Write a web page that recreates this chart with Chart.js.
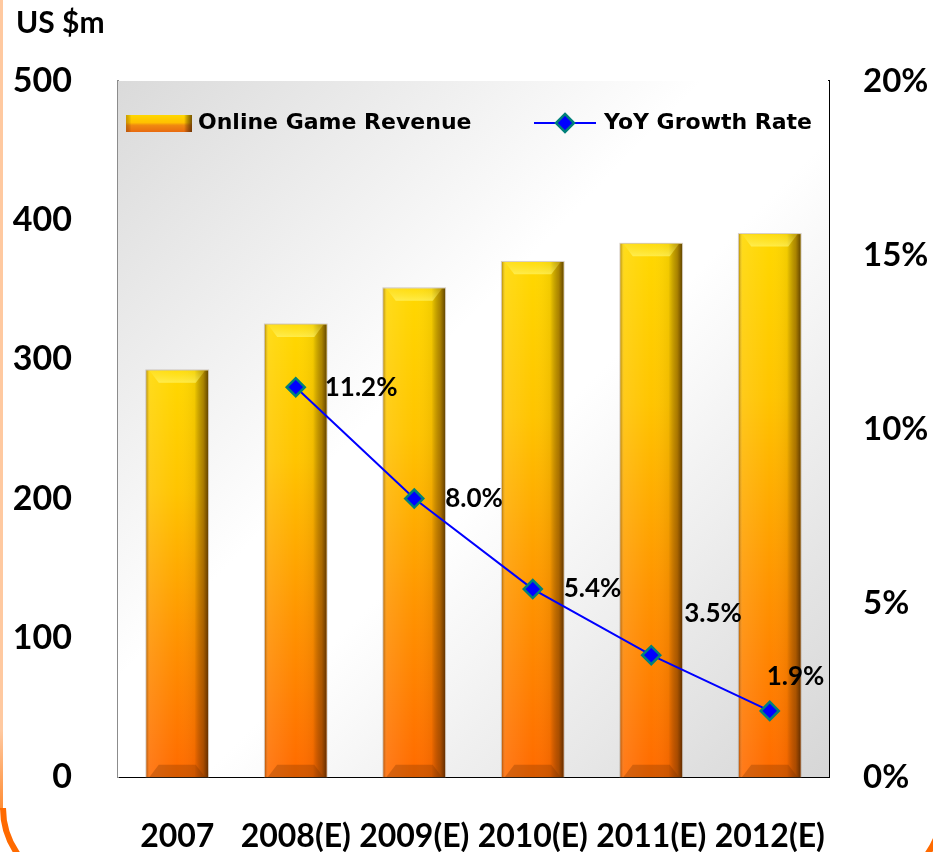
<!DOCTYPE html>
<html>
<head>
<meta charset="utf-8">
<title>Online Game Revenue</title>
<script src="https://cdn.jsdelivr.net/npm/chart.js@4"></script>
<style>
  html, body { margin: 0; padding: 0; background: #fff; }
  #wrap { position: relative; width: 933px; height: 852px; }
</style>
</head>
<body>
<div id="wrap"><canvas id="revenueChart" width="933" height="852"></canvas></div>
<script>
const years = ['2007', '2008(E)', '2009(E)', '2010(E)', '2011(E)', '2012(E)'];
const revenue = [292, 325, 351, 370, 383, 390];      // US $m
const growth = [null, 11.2, 8.0, 5.4, 3.5, 1.9];    // YoY %
const revenueTicks = [0, 100, 200, 300, 400, 500];
const growthTicks = [0, 5, 10, 15, 20];

// where each growth label sits relative to its marker
const labelShift = [null, [29, 0], [31, 0], [31, 0], [33, -42], [-3, -34]];

const NUM_FONT = 'Lato, "DejaVu Sans", sans-serif';
const TXT_FONT = '"DejaVu Sans", sans-serif';

// orange rounded frame round the whole slide
const framePlugin = {
  id: 'frame',
  beforeDraw(chart) {
    const c = chart.ctx;
    c.save();
    const g = c.createLinearGradient(0, 0, 0, 812);
    g.addColorStop(0, '#ffc9a0');
    g.addColorStop(0.9, '#ffc9a0');
    g.addColorStop(1, '#ff8a30');
    c.strokeStyle = g;
    c.lineWidth = 3;
    c.beginPath();
    c.moveTo(1.5, 0);
    c.lineTo(1.5, 810);
    c.stroke();

    c.lineWidth = 6;
    c.strokeStyle = '#ff6a00';
    c.beginPath();
    c.arc(83, 808, 80, Math.PI, Math.PI * 0.62, true);
    c.stroke();
    c.beginPath();
    c.arc(862, 808, 80, Math.PI * 0.36, Math.PI * 0.05, true);
    c.stroke();

    c.fillStyle = '#000';
    c.font = 'bold 30px ' + NUM_FONT;
    c.textBaseline = 'middle';
    c.fillText('US $m', 16, 23);
    c.restore();
  }
};

// diagonal grey-white-grey plot background
const plotBgPlugin = {
  id: 'plotBg',
  beforeDatasetsDraw(chart) {
    const { ctx: c, chartArea: a } = chart;
    const g = c.createLinearGradient(a.left, a.top, a.right, a.bottom);
    g.addColorStop(0, '#dadada');
    g.addColorStop(0.42, '#ffffff');
    g.addColorStop(0.55, '#ffffff');
    g.addColorStop(1, '#d6d6d6');
    c.save();
    c.fillStyle = g;
    c.fillRect(a.left, a.top, a.right - a.left, a.bottom - a.top);
    c.restore();
  }
};

function barGradient(c, top, bottom) {
  const g = c.createLinearGradient(0, top, 0, bottom);
  g.addColorStop(0, '#ffd800');
  g.addColorStop(0.3, '#ffc400');
  g.addColorStop(0.65, '#ff9400');
  g.addColorStop(1, '#ff6a00');
  return g;
}

// bevel shading on top of each bar
function shadeBar(c, x0, x1, top, bottom) {
  const w = x1 - x0;
  const b = Math.min(13, w * 0.2);

  const h = c.createLinearGradient(x0, 0, x1, 0);
  h.addColorStop(0, 'rgba(90,45,0,0.4)');
  h.addColorStop(0.06, 'rgba(255,255,255,0.1)');
  h.addColorStop(0.5, 'rgba(255,255,255,0)');
  h.addColorStop(0.78, 'rgba(0,0,0,0.05)');
  h.addColorStop(0.92, 'rgba(70,35,0,0.45)');
  h.addColorStop(1, 'rgba(50,25,0,0.75)');
  c.fillStyle = h;
  c.fillRect(x0, top, w, bottom - top);

  // lit top facet
  c.beginPath();
  c.moveTo(x0 + 3, top);
  c.lineTo(x1 - 3, top);
  c.lineTo(x1 - b, top + b);
  c.lineTo(x0 + b, top + b);
  c.closePath();
  const t = c.createLinearGradient(0, top, 0, top + b);
  t.addColorStop(0, 'rgba(255,235,60,0.25)');
  t.addColorStop(1, 'rgba(255,250,120,0.6)');
  c.fillStyle = t;
  c.fill();

  // dark bottom facet
  c.beginPath();
  c.moveTo(x0 + 3, bottom);
  c.lineTo(x1 - 3, bottom);
  c.lineTo(x1 - b, bottom - b);
  c.lineTo(x0 + b, bottom - b);
  c.closePath();
  c.fillStyle = 'rgba(120,50,0,0.3)';
  c.fill();

  c.strokeStyle = 'rgba(120,90,60,0.3)';
  c.lineWidth = 1;
  c.strokeRect(x0 - 0.5, top - 0.5, w + 1, bottom - top + 1);
}

const bevelPlugin = {
  id: 'bevel',
  afterDatasetDraw(chart, args) {
    if (args.meta.type !== 'bar') return;
    const c = chart.ctx;
    c.save();
    args.meta.data.forEach(bar => {
      const p = bar.getProps(['x', 'y', 'base', 'width'], true);
      shadeBar(c, p.x - p.width / 2, p.x + p.width / 2, p.y, p.base);
    });
    c.restore();
  }
};

// legend drawn inside the plot area
const innerLegendPlugin = {
  id: 'innerLegend',
  afterDatasetsDraw(chart) {
    const c = chart.ctx;
    const a = chart.chartArea;
    const y = a.top + 42;
    c.save();

    const bx0 = a.left + 8, bx1 = bx0 + 66;
    const g = c.createLinearGradient(0, y - 8, 0, y + 9);
    g.addColorStop(0, '#ffd800');
    g.addColorStop(0.45, '#ffc000');
    g.addColorStop(0.6, '#f08a10');
    g.addColorStop(1, '#e86a10');
    c.fillStyle = g;
    c.fillRect(bx0, y - 8, bx1 - bx0, 17);
    const e = c.createLinearGradient(bx0, 0, bx1, 0);
    e.addColorStop(0, 'rgba(120,60,0,0.35)');
    e.addColorStop(0.08, 'rgba(0,0,0,0)');
    e.addColorStop(0.88, 'rgba(0,0,0,0)');
    e.addColorStop(1, 'rgba(70,35,0,0.7)');
    c.fillStyle = e;
    c.fillRect(bx0, y - 8, bx1 - bx0, 17);

    c.fillStyle = '#000';
    c.font = 'bold 22px ' + TXT_FONT;
    c.textBaseline = 'middle';
    c.fillText('Online Game Revenue', bx1 + 6, y);

    const lx = a.left + 416;
    c.strokeStyle = '#0000ff';
    c.lineWidth = 2;
    c.beginPath();
    c.moveTo(lx, y);
    c.lineTo(lx + 62, y);
    c.stroke();
    drawDiamond(c, lx + 31, y);

    c.fillStyle = '#000';
    c.fillText('YoY Growth Rate', lx + 70, y);
    c.restore();
  }
};

function drawDiamond(c, x, y) {
  const r = 9;
  c.beginPath();
  c.moveTo(x, y - r);
  c.lineTo(x + r, y);
  c.lineTo(x, y + r);
  c.lineTo(x - r, y);
  c.closePath();
  c.fillStyle = '#0000ff';
  c.fill();
  c.strokeStyle = '#00807a';
  c.lineWidth = 2.5;
  c.stroke();
}

// percentage labels beside the growth markers
const growthLabelPlugin = {
  id: 'growthLabels',
  afterDatasetsDraw(chart) {
    const c = chart.ctx;
    const meta = chart.getDatasetMeta(1);
    c.save();
    c.fillStyle = '#000';
    c.font = 'bold 26px ' + NUM_FONT;
    c.textBaseline = 'middle';
    c.textAlign = 'left';
    meta.data.forEach((pt, i) => {
      if (growth[i] == null) return;
      const s = labelShift[i];
      c.fillText(growth[i].toFixed(1) + '%', pt.x + s[0], pt.y + s[1]);
    });
    c.restore();
  }
};

const ctx = document.getElementById('revenueChart').getContext('2d');

new Chart(ctx, {
  data: {
    labels: years,
    datasets: [
      {
        type: 'bar',
        label: 'Online Game Revenue',
        data: revenue,
        yAxisID: 'y',
        order: 2,
        barPercentage: 0.52,
        categoryPercentage: 1,
        backgroundColor(context) {
          const chart = context.chart;
          const a = chart.chartArea;
          if (!a) return '#ffb000';
          const yScale = chart.scales.y;
          const top = yScale.getPixelForValue(context.raw);
          const bottom = yScale.getPixelForValue(0);
          return barGradient(chart.ctx, top, bottom);
        }
      },
      {
        type: 'line',
        label: 'YoY Growth Rate',
        data: growth,
        yAxisID: 'y1',
        order: 1,
        borderColor: '#0000ff',
        borderWidth: 2,
        pointStyle: 'rectRot',
        pointRadius: 9,
        pointBackgroundColor: '#0000ff',
        pointBorderColor: '#00807a',
        pointBorderWidth: 2.5,
        tension: 0,
        spanGaps: false
      }
    ]
  },
  options: {
    responsive: false,
    animation: false,
    events: [],
    layout: { padding: { top: 81, left: 0, right: 0, bottom: 0 } },
    plugins: {
      legend: { display: false },
      tooltip: { enabled: false }
    },
    scales: {
      x: {
        grid: { display: false, drawTicks: false },
        border: { display: true, color: '#000', width: 2 },
        ticks: {
          color: '#000',
          font: { family: NUM_FONT, size: 32, weight: 'bold' },
          padding: 40,
          maxRotation: 0,
          autoSkip: false
        },
        afterFit(scale) { scale.height = 75; }
      },
      y: {
        position: 'left',
        min: 0,
        max: 500,
        afterBuildTicks(scale) { scale.ticks = revenueTicks.map(v => ({ value: v })); },
        grid: { display: false, drawTicks: false },
        border: { display: true, color: '#8c8c8c', width: 2 },
        ticks: {
          color: '#000',
          font: { family: NUM_FONT, size: 34, weight: 'bold' },
          padding: 46
        },
        afterFit(scale) { scale.width = 118; }
      },
      y1: {
        position: 'right',
        min: 0,
        max: 20,
        afterBuildTicks(scale) { scale.ticks = growthTicks.map(v => ({ value: v })); },
        grid: { display: false, drawTicks: false },
        border: { display: true, color: '#000', width: 2 },
        ticks: {
          color: '#000',
          font: { family: NUM_FONT, size: 33, weight: 'bold' },
          padding: 34,
          callback: v => v + '%'
        },
        afterFit(scale) { scale.width = 104; }
      }
    }
  },
  plugins: [framePlugin, plotBgPlugin, bevelPlugin, innerLegendPlugin, growthLabelPlugin]
});
</script>
</body>
</html>
